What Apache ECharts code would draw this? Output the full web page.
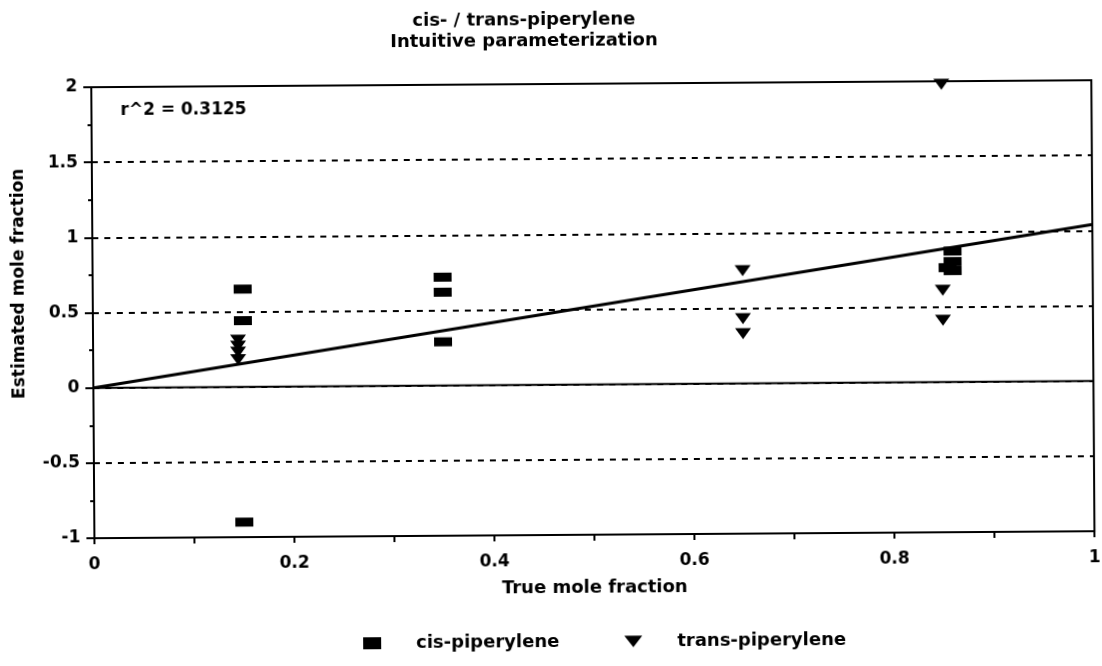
<!DOCTYPE html>
<html>
<head>
<meta charset="utf-8">
<title>cis- / trans-piperylene</title>
<script src="https://cdn.jsdelivr.net/npm/echarts@6/dist/echarts.min.js"></script>
<style>
  html, body { margin: 0; padding: 0; background: #fff; }
  #main { width: 1102px; height: 666px; transform: rotate(-0.4deg); }
</style>
</head>
<body>
<div id="main"></div>
<script>
// values
const xTicks = [0, 0.2, 0.4, 0.6, 0.8, 1];
const yTicks = [-1, -0.5, 0, 0.5, 1, 1.5, 2];

const cisX = [0.15, 0.15, 0.15, 0.35, 0.35, 0.35, 0.86, 0.86, 0.855, 0.86];
const cisY = [0.65, 0.44, -0.9, 0.72, 0.62, 0.29, 0.87, 0.80, 0.76, 0.74];

const transX = [0.145, 0.145, 0.145, 0.145, 0.65, 0.65, 0.65, 0.85, 0.85, 0.85];
const transY = [0.31, 0.27, 0.23, 0.18, 0.75, 0.43, 0.33, 1.98, 0.61, 0.41];

// fitted line and the zero line
const fitLine = [[0, 0], [1, 1.04]];
const zeroLine = [[0, 0], [1, 0]];

const font = '"DejaVu Sans", Arial, sans-serif';
const txt = { fontFamily: font, fontWeight: 'bold', color: '#000' };

const chart = echarts.init(document.getElementById('main'));

const option = {
  animation: false,
  title: {
    text: 'cis- / trans-piperylene\nIntuitive parameterization',
    left: 521,
    textAlign: 'center',
    top: 5,
    textStyle: Object.assign({ fontSize: 18, lineHeight: 21 }, txt)
  },
  legend: {
    top: 628,
    left: 356,
    itemGap: 65,
    itemWidth: 18,
    itemHeight: 12,
    textStyle: Object.assign({ fontSize: 18, padding: [0, 0, 0, 30] }, txt),
    data: ['cis-piperylene', 'trans-piperylene']
  },
  grid: {
    left: 93, right: 2, top: 84, bottom: 131,
    show: true, borderColor: '#000', borderWidth: 2
  },
  xAxis: {
    type: 'value',
    min: 0, max: 1, interval: 0.2,
    name: 'True mole fraction',
    nameLocation: 'middle',
    nameGap: 44,
    nameTextStyle: Object.assign({ fontSize: 18 }, txt),
    axisLine: { show: true, onZero: false, lineStyle: { color: '#000', width: 2 } },
    axisTick: { show: true, length: 6, lineStyle: { color: '#000', width: 2 } },
    minorTick: { show: true, splitNumber: 2, length: 6, lineStyle: { color: '#000', width: 2 } },
    splitLine: { show: false },
    axisLabel: Object.assign({
      margin: 18, fontSize: 17,
      formatter: v => {
        const t = xTicks.find(k => Math.abs(k - v) < 1e-9);
        return t === undefined ? '' : String(t);
      }
    }, txt)
  },
  yAxis: {
    type: 'value',
    min: -1, max: 2, interval: 0.5,
    axisLine: { show: true, onZero: false, lineStyle: { color: '#000', width: 2 } },
    axisTick: { show: true, length: 8, lineStyle: { color: '#000', width: 2 } },
    minorTick: { show: true, splitNumber: 2, length: 4, lineStyle: { color: '#000', width: 2 } },
    splitLine: { show: true, lineStyle: { color: '#000', type: [6, 6], width: 2 } },
    axisLabel: Object.assign({
      margin: 14, fontSize: 17,
      formatter: v => {
        const t = yTicks.find(k => Math.abs(k - v) < 1e-9);
        return t === undefined ? '' : String(t);
      }
    }, txt)
  },
  graphic: [
    {
      type: 'text',
      left: 122, top: 99,
      style: { text: 'r^2 = 0.3125', font: 'bold 17px ' + font, fill: '#000' }
    },
    {
      type: 'text',
      x: 20, y: 280, rotation: Math.PI / 2,
      style: {
        text: 'Estimated mole fraction', font: 'bold 17px ' + font, fill: '#000',
        align: 'center', verticalAlign: 'middle'
      }
    }
  ],
  series: [
    {
      type: 'line', data: zeroLine, symbol: 'none', silent: true,
      lineStyle: { color: '#000', width: 2 }, z: 1
    },
    {
      type: 'line', data: fitLine, symbol: 'none', silent: true,
      lineStyle: { color: '#000', width: 3 }, z: 1
    },
    {
      name: 'cis-piperylene',
      type: 'scatter',
      symbol: 'rect',
      symbolSize: [18, 9],
      itemStyle: { color: '#000', opacity: 1 },
      data: cisX.map((x, i) => [x, cisY[i]]),
      z: 3
    },
    {
      name: 'trans-piperylene',
      type: 'scatter',
      symbol: 'path://M0,0L2,0L1,1.3Z',
      symbolSize: [16, 11],
      itemStyle: { color: '#000', opacity: 1 },
      data: transX.map((x, i) => [x, transY[i]]),
      z: 3
    }
  ]
};

chart.setOption(option);
</script>
</body>
</html>
